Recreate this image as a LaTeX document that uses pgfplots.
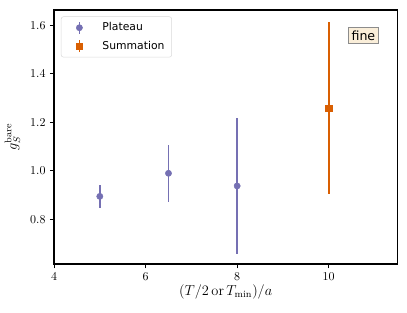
\documentclass[border=0pt]{standalone}
\usepackage{fontspec}
\usepackage{pgfplots}
\pgfplotsset{compat=1.18}
\newfontfamily\dejavu{DejaVu Sans}
\definecolor{cpur}{HTML}{7570B3}
\definecolor{corg}{HTML}{D95F02}
\definecolor{wheat}{HTML}{F5DEB3}
\pgfplotsset{
  errleg/.style={legend image code/.code={
    \path (0pt,0pt) (28pt,0pt);
    \draw[##1,line width=1.4pt,solid] (11pt,-5pt)--(11pt,5pt);
    \draw[##1,only marks] plot coordinates {(11pt,0pt)};}}
}
\begin{document}
\begin{tikzpicture}
\begin{axis}[
  name=ax,
  scale only axis,
  width=286pt, height=212pt,
  xmin=4, xmax=11.5, ymin=0.616, ymax=1.664,
  xtick={4,6,8,10}, ytick={0.8,1.0,1.2,1.4,1.6},
  yticklabel style={/pgf/number format/fixed,/pgf/number format/fixed zerofill,/pgf/number format/precision=1},
  tick align=outside, tick pos=left,
  major tick length=3.5pt,
  tick style={black, line width=0.8pt},
  axis line style={line width=1.5pt},
  xlabel={\fontsize{12}{14}\selectfont $(T/2\,\mathrm{or}\,T_{\mathrm{min}})/a$},
  ylabel={\fontsize{12}{14}\selectfont $g_S^{\mathrm{bare}}$},
  xlabel style={yshift=3pt},
  ylabel style={yshift=1.5pt},
  legend style={at={(0.02,0.973)}, anchor=north west, draw=black!15, rounded corners=2pt,
    font=\dejavu\fontsize{9}{10}\selectfont, row sep=3pt, inner xsep=4pt, inner ysep=3pt},
  legend cell align=left,
]
\addplot[cpur, only marks, mark=*, mark size=2.6pt, errleg,
  error bars/.cd, y dir=both, y explicit, error bar style={line width=1.4pt, color=cpur}, error mark=none]
  coordinates {(5,0.895) +- (0,0.047) (6.5,0.99) +- (0,0.118) (8,0.938) +- (0,0.279)};
\addlegendentry{Plateau}
\addplot[corg, only marks, mark=square*, mark size=2.6pt, errleg,
  error bars/.cd, y dir=both, y explicit, error bar style={line width=1.4pt, color=corg}, error mark=none]
  coordinates {(10,1.258) +- (0,0.353)};
\addlegendentry{Summation}
\node[draw=black!45, fill=wheat!50, inner sep=2.5pt, font=\dejavu\fontsize{10.5}{12}\selectfont]
  at (rel axis cs:0.901,0.899) {fine};
\end{axis}
\path (ax.south west) ++(-45pt,-40pt);
\path (ax.north east) ++(8pt,8pt);
\end{tikzpicture}
\end{document}
